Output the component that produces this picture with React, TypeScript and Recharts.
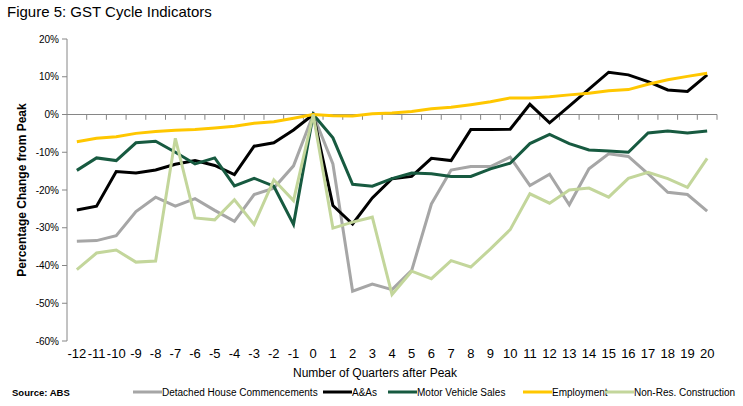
import { LineChart, Line, XAxis, YAxis, ReferenceLine } from 'recharts'

const FONT = '"Liberation Sans", Arial, sans-serif'

// ── Data ────────────────────────────────────────────────────────────────────
const quarters = [-12, -11, -10, -9, -8, -7, -6, -5, -4, -3, -2, -1, 0, 1, 2, 3, 4, 5, 6, 7, 8, 9, 10, 11, 12, 13, 14, 15, 16, 17, 18, 19, 20]

const detached = [-33.6, -33.4, -32.1, -25.7, -21.9, -24.3, -22.3, -25.4, -28.3, -21.2, -19.5, -13.6, 0, -13.1, -46.8, -44.9, -46.4, -41.3, -23.7, -14.7, -13.8, -13.8, -11.3, -18.8, -15.8, -23.9, -14.4, -10.4, -11.1, -15.7, -20.6, -21.2, -25.6]
const aandas = [-25.3, -24.3, -15.1, -15.5, -14.7, -13.2, -12.2, -13.5, -15.9, -8.4, -7.5, -4.1, 0, -24.1, -29.0, -22.1, -17.0, -16.4, -11.6, -12.2, -4.0, -4.0, -3.9, 2.7, -2.2, 2.2, 6.7, 11.2, 10.5, 8.7, 6.5, 6.1, 10.5]
const motorVehicles = [-14.8, -11.5, -12.2, -7.5, -7.1, -10.0, -13.1, -11.5, -18.9, -16.9, -19.0, -29.1, 0, -6.2, -18.5, -19.0, -17.0, -15.5, -15.7, -16.4, -16.4, -14.4, -12.9, -7.7, -5.3, -7.7, -9.4, -9.7, -10.0, -4.9, -4.4, -4.9, -4.4]
const employment = [-7.2, -6.3, -5.9, -5.0, -4.5, -4.2, -4.0, -3.6, -3.1, -2.3, -1.9, -1.0, 0, -0.3, -0.4, 0.2, 0.4, 0.8, 1.5, 1.9, 2.6, 3.4, 4.4, 4.4, 4.7, 5.2, 5.6, 6.3, 6.6, 8.0, 9.2, 10.1, 10.9]
const nonRes = [-41.1, -36.7, -35.9, -39.1, -38.8, -6.3, -27.4, -27.9, -22.6, -29.1, -17.3, -22.8, 0, -30.1, -28.5, -27.2, -47.7, -41.5, -43.5, -38.7, -40.4, -35.6, -30.5, -21.0, -23.5, -20.0, -19.5, -21.9, -16.9, -15.3, -17.0, -19.3, -11.6]

const yTicks = [-60, -50, -40, -30, -20, -10, 0, 10, 20]

const series = [
  { key: 'detached', name: 'Detached House Commencements', color: '#a6a6a6', values: detached },
  { key: 'aandas', name: 'A&As', color: '#000000', values: aandas },
  { key: 'motor', name: 'Motor Vehicle Sales', color: '#175a40', values: motorVehicles },
  { key: 'employment', name: 'Employment', color: '#ffc700', values: employment },
  { key: 'nonres', name: 'Non-Res. Construction', color: '#c3d69b', values: nonRes },
]

const data = quarters.map((q, i) => {
  const row: Record<string, number> = { q }
  series.forEach(s => { row[s.key] = s.values[i] })
  return row
})

// category boundaries on the zero line
const bounds = quarters.map(q => q + 0.5)

const legendPos = [133, 323, 388, 523, 605]

export default function App() {
  return (
    <div style={{ position: 'absolute', left: 0, top: 0, width: 743, height: 406, background: '#fff', fontFamily: FONT }}>
      <div style={{ position: 'absolute', left: 7, top: 3, fontSize: 15, color: '#000' }}>Figure 5: GST Cycle Indicators</div>

      <LineChart width={743} height={406} data={data} margin={{ top: 39, right: 26, bottom: 35, left: 0 }}>
        <XAxis dataKey="q" type="number" domain={[-12.5, 20.5]} ticks={quarters} interval={0}
          axisLine={false} tickLine={false} height={30}
          tick={{ fill: '#000', fontSize: 13, fontFamily: FONT }} />
        <YAxis type="number" domain={[-60, 20]} ticks={yTicks} width={67} tickSize={5} tickMargin={3}
          tickFormatter={(v: number) => `${v}%`}
          axisLine={{ stroke: '#868686' }} tickLine={{ stroke: '#868686' }}
          tick={{ fill: '#000', fontSize: 10, fontFamily: FONT }} />
        <ReferenceLine y={0} stroke="#868686" strokeWidth={1} />
        {bounds.map(b => (
          <ReferenceLine key={b} segment={[{ x: b, y: 0 }, { x: b, y: -1.4 }]} stroke="#868686" strokeWidth={1} />
        ))}
        {series.map(s => (
          <Line key={s.key} dataKey={s.key} name={s.name} stroke={s.color} strokeWidth={3}
            dot={false} activeDot={false} type="linear" isAnimationActive={false} />
        ))}
      </LineChart>

      <div style={{
        position: 'absolute', left: 22, top: 190, transform: 'translate(-50%, -50%) rotate(-90deg)',
        fontSize: 12, fontWeight: 700, whiteSpace: 'nowrap', color: '#000'
      }}>Percentage Change from Peak</div>

      <div style={{ position: 'absolute', left: 375, top: 373, transform: 'translate(-50%, -50%)', fontSize: 12, whiteSpace: 'nowrap', color: '#000' }}>
        Number of Quarters after Peak
      </div>

      <div style={{ position: 'absolute', left: 12, top: 392, transform: 'translateY(-50%)', fontSize: 9.5, fontWeight: 700, color: '#000' }}>Source: ABS</div>

      {series.map((s, i) => (
        <div key={s.key} style={{ position: 'absolute', left: legendPos[i], top: 392, transform: 'translateY(-50%)', display: 'flex', alignItems: 'center', fontSize: 10, color: '#000', whiteSpace: 'nowrap' }}>
          <div style={{ width: 29, height: 3, background: s.color }} />
          <span>{s.name}</span>
        </div>
      ))}
    </div>
  )
}
